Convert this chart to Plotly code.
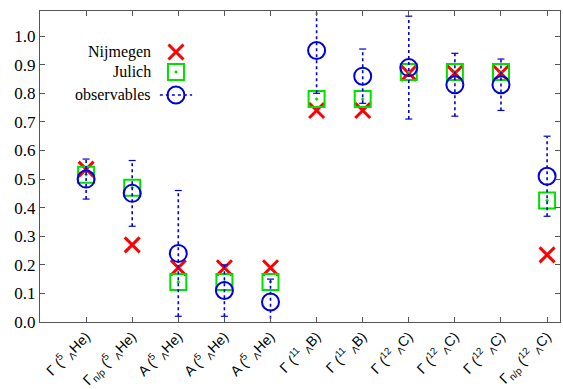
import plotly.graph_objects as go

labels = [
    "Γ (<sup>5</sup> <sub>Λ</sub>He)",
    "Γ<sub>n/p</sub> (<sup>5</sup> <sub>Λ</sub>He)",
    "A (<sup>5</sup> <sub>Λ</sub>He)",
    "A (<sup>5</sup> <sub>Λ</sub>He)",
    "A (<sup>5</sup> <sub>Λ</sub>He)",
    "Γ (<sup>11</sup> <sub>Λ</sub>B)",
    "Γ (<sup>11</sup> <sub>Λ</sub>B)",
    "Γ (<sup>12</sup> <sub>Λ</sub>C)",
    "Γ (<sup>12</sup> <sub>Λ</sub>C)",
    "Γ (<sup>12</sup> <sub>Λ</sub>C)",
    "Γ<sub>n/p</sub> (<sup>12</sup> <sub>Λ</sub>C)",
]
nijmegen = [0.535, 0.27, 0.19, 0.19, 0.19, 0.74, 0.74, 0.87, 0.87, 0.87, 0.235]
julich = [0.515, 0.47, 0.14, 0.14, 0.14, 0.78, 0.78, 0.875, 0.875, 0.875, 0.425]
observables = [0.50, 0.45, 0.24, 0.11, 0.07, 0.95, 0.86, 0.89, 0.83, 0.83, 0.51]
obs_err = [0.07, 0.115, 0.22, 0.09, 0.08, 0.15, 0.095, 0.18, 0.11, 0.09, 0.14]
yticks = [0.0, 0.1, 0.2, 0.3, 0.4, 0.5, 0.6, 0.7, 0.8, 0.9, 1.0]

xpos = list(range(1, len(labels) + 1))

RED = "#ff0000"
GREEN = "#00e000"
BLUE = "#0000d8"
SERIF = "Liberation Serif"
SANS = "Liberation Sans"

fig = go.Figure()

fig.add_trace(go.Scatter(
    x=xpos, y=nijmegen, mode="markers", name="Nijmegen",
    marker=dict(symbol="x-thin", size=15, line=dict(color=RED, width=3)),
    showlegend=False))
fig.add_trace(go.Scatter(
    x=xpos, y=julich, mode="markers", name="Julich",
    marker=dict(symbol="square-open-dot", size=16, color=GREEN, line=dict(color=GREEN, width=2)),
    showlegend=False))

# error bars (dotted) built from observables and their uncertainties
ex, ey = [], []
for xv, v, e in zip(xpos, observables, obs_err):
    ex += [xv, xv, None]
    ey += [v - e, v + e, None]
fig.add_trace(go.Scatter(
    x=ex, y=ey, mode="lines+markers",
    line=dict(color=BLUE, width=1.6, dash="dot"),
    marker=dict(symbol="line-ew", size=5, line=dict(color=BLUE, width=1.2)),
    showlegend=False, hoverinfo="skip"))
fig.add_trace(go.Scatter(
    x=xpos, y=observables, mode="markers", name="observables",
    marker=dict(symbol="circle-open", size=17, color=BLUE, line=dict(color=BLUE, width=2)),
    showlegend=False))

# custom legend (symbols right of text), on hidden overlay axes
lx = 0.2615
legend_names = ["Nijmegen", "Julich", "observables"]
legend_y = [0.868, 0.804, 0.730]
fig.add_trace(go.Scatter(x=[lx], y=[legend_y[0]], xaxis="x2", yaxis="y2", mode="markers",
                         marker=dict(symbol="x-thin", size=15, line=dict(color=RED, width=3)),
                         showlegend=False, hoverinfo="skip"))
fig.add_trace(go.Scatter(x=[lx], y=[legend_y[1]], xaxis="x2", yaxis="y2", mode="markers",
                         marker=dict(symbol="square-open-dot", size=16, color=GREEN,
                                     line=dict(color=GREEN, width=2)),
                         showlegend=False, hoverinfo="skip"))
fig.add_trace(go.Scatter(x=[lx - 0.031, lx + 0.031], y=[legend_y[2], legend_y[2]], xaxis="x2", yaxis="y2",
                         mode="lines", line=dict(color=BLUE, width=1.6, dash="dot"),
                         showlegend=False, hoverinfo="skip"))
fig.add_trace(go.Scatter(x=[lx], y=[legend_y[2]], xaxis="x2", yaxis="y2", mode="markers",
                         marker=dict(symbol="circle-open", size=17, color=BLUE,
                                     line=dict(color=BLUE, width=2)),
                         showlegend=False, hoverinfo="skip"))
for name, ly in zip(legend_names, legend_y):
    fig.add_annotation(x=0.218, y=ly, xref="paper", yref="paper", text=name,
                       showarrow=False, xanchor="right", yanchor="middle",
                       font=dict(family=SERIF, size=16, color="black"))

axcol = "#555555"
fig.update_layout(
    width=563, height=389,
    margin=dict(l=40, r=3, t=11, b=67),
    paper_bgcolor="white", plot_bgcolor="white",
    font=dict(family=SERIF),
    xaxis=dict(range=[0, 11.28], tickvals=xpos, ticktext=labels, tickangle=-45,
               ticks="inside", ticklen=5, tickcolor=axcol, showline=True, linecolor=axcol,
               linewidth=1, mirror="ticks", showgrid=False, zeroline=False, automargin=False,
               tickfont=dict(family=SANS, size=14, color="black")),
    yaxis=dict(range=[0, 1.088], tickvals=yticks, tickformat=".1f",
               ticks="inside", ticklen=5, tickcolor=axcol, showline=True, linecolor=axcol,
               linewidth=1, mirror="ticks", showgrid=False, zeroline=False, automargin=False,
               tickfont=dict(family=SERIF, size=17, color="black")),
    xaxis2=dict(overlaying="x", range=[0, 1], visible=False),
    yaxis2=dict(overlaying="y", range=[0, 1], visible=False),
    showlegend=False,
)

fig.write_html("out.html", config={"displayModeBar": False},
               post_script="document.body.style.margin='0px';")
